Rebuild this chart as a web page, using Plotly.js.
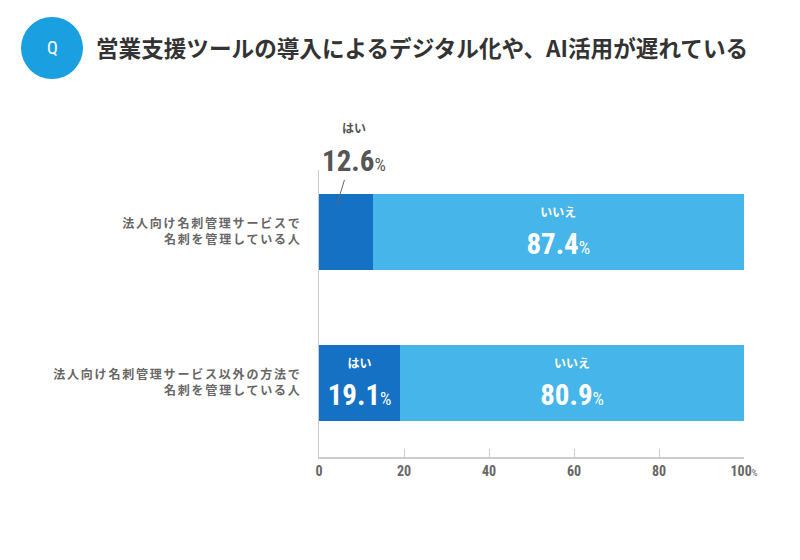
<!DOCTYPE html>
<html><head><meta charset="utf-8">
<script src="https://cdn.plot.ly/plotly-3.0.1.min.js"></script>
<style>
body{margin:0;background:#fff}#c{width:800px;height:560px}
.bartext, .annotation-text, .xtick text {font-stretch: condensed;}
.ytick text {letter-spacing: 1.8px;}
</style>
</head><body><div id="c"></div>
<script>
const categories = ["法人向け名刺管理サービスで<br>名刺を管理している人", "法人向け名刺管理サービス以外の方法で<br>名刺を管理している人"];
const yesValues = [12.6, 19.1];
const noValues = [87.4, 80.9];
const yesLabel = "はい";
const noLabel = "いいえ";
const tickVals = [0, 20, 40, 60, 80, 100];
const tickLabels = ["0", "20", "40", "60", "80", "100<span style='font-size:9px;font-weight:normal'>%</span>"];

const numFont = "Roboto Condensed, DejaVu Sans Condensed, DejaVu Sans, Noto Sans CJK JP";
const jpFont = "Noto Sans CJK JP, sans-serif";

function label(name, v) {
  return `<span style="font-size:12px;font-family:'Noto Sans CJK JP';font-weight:bold">${name}</span><br><b>${v.toFixed(1)}</b><span style="font-size:18px">%</span>`;
}
const yesText = yesValues.map((v, i) => v < 15 ? "" : label(yesLabel, v));
const noText = noValues.map(v => label(noLabel, v));

const traces = [
  {type: "bar", orientation: "h", y: categories, x: yesValues, name: yesLabel,
   marker: {color: "#1471c4"}, text: yesText, texttemplate: "%{text}",
   textposition: "inside", insidetextanchor: "middle", constraintext: "none",
   textfont: {family: numFont, size: 29, color: "#ffffff"}, hoverinfo: "skip"},
  {type: "bar", orientation: "h", y: categories, x: noValues, name: noLabel,
   marker: {color: "#46b5e9"}, text: noText, texttemplate: "%{text}",
   textposition: "inside", insidetextanchor: "middle", constraintext: "none",
   textfont: {family: numFont, size: 29, color: "#ffffff"}, hoverinfo: "skip"}
];

const annotations = [];
yesValues.forEach((v, i) => {
  if (v < 15) {
    annotations.push({
      x: v / 3, y: categories[i], xref: "x", yref: "y", yshift: 27,
      ax: 17, ay: -56, axref: "pixel", ayref: "pixel",
      showarrow: true, arrowhead: 0, arrowwidth: 1, arrowcolor: "#666", standoff: 0,
      text: label(yesLabel, v),
      font: {family: numFont, size: 29, color: "#555555"}
    });
  }
});
annotations.push({
  xref: "paper", yref: "paper", x: (52 - 319) / 425, y: (457 - 48) / 287,
  xanchor: "center", yanchor: "middle",
  text: "Q", showarrow: false, font: {family: "Roboto, sans-serif", size: 18, color: "#ffffff"}
});

const layout = {
  width: 800, height: 560,
  margin: {l: 319, r: 56, t: 170, b: 103},
  paper_bgcolor: "#ffffff", plot_bgcolor: "#ffffff",
  barmode: "stack", bargap: 0.497, showlegend: false,
  title: {text: "<b>営業支援ツールの導入によるデジタル化や、AI活用が遅れている</b>",
          xref: "container", yref: "container", x: 96 / 800, xanchor: "left",
          y: 1 - 49 / 560, yanchor: "middle",
          font: {family: jpFont, size: 22.6, color: "#333333"}},
  xaxis: {range: [0, 100], tickvals: tickVals, ticktext: tickLabels,
          ticks: "inside", ticklen: 8, tickcolor: "#cccccc", tickwidth: 1,
          ticklabelstandoff: 1,
          showgrid: false, zeroline: false, showline: true, linecolor: "#cccccc", linewidth: 1.5,
          tickfont: {family: numFont, size: 14, color: "#666666", weight: "bold"}, fixedrange: true},
  yaxis: {range: [1.49, -0.41], type: "category", showgrid: false, zeroline: false,
          showline: true, linecolor: "#cccccc", linewidth: 1, ticks: "",
          ticklabelstandoff: 14,
          tickfont: {family: jpFont, size: 12, color: "#666666", weight: "bold"}, fixedrange: true},
  shapes: [{type: "circle", xref: "paper", yref: "paper",
            x0: (21 - 319) / 425, x1: (83 - 319) / 425,
            y0: (457 - 79) / 287, y1: (457 - 17) / 287,
            fillcolor: "#1a9fe0", line: {width: 0}}],
  annotations: annotations
};
Plotly.newPlot("c", traces, layout, {displayModeBar: false, staticPlot: true});
</script></body></html>
